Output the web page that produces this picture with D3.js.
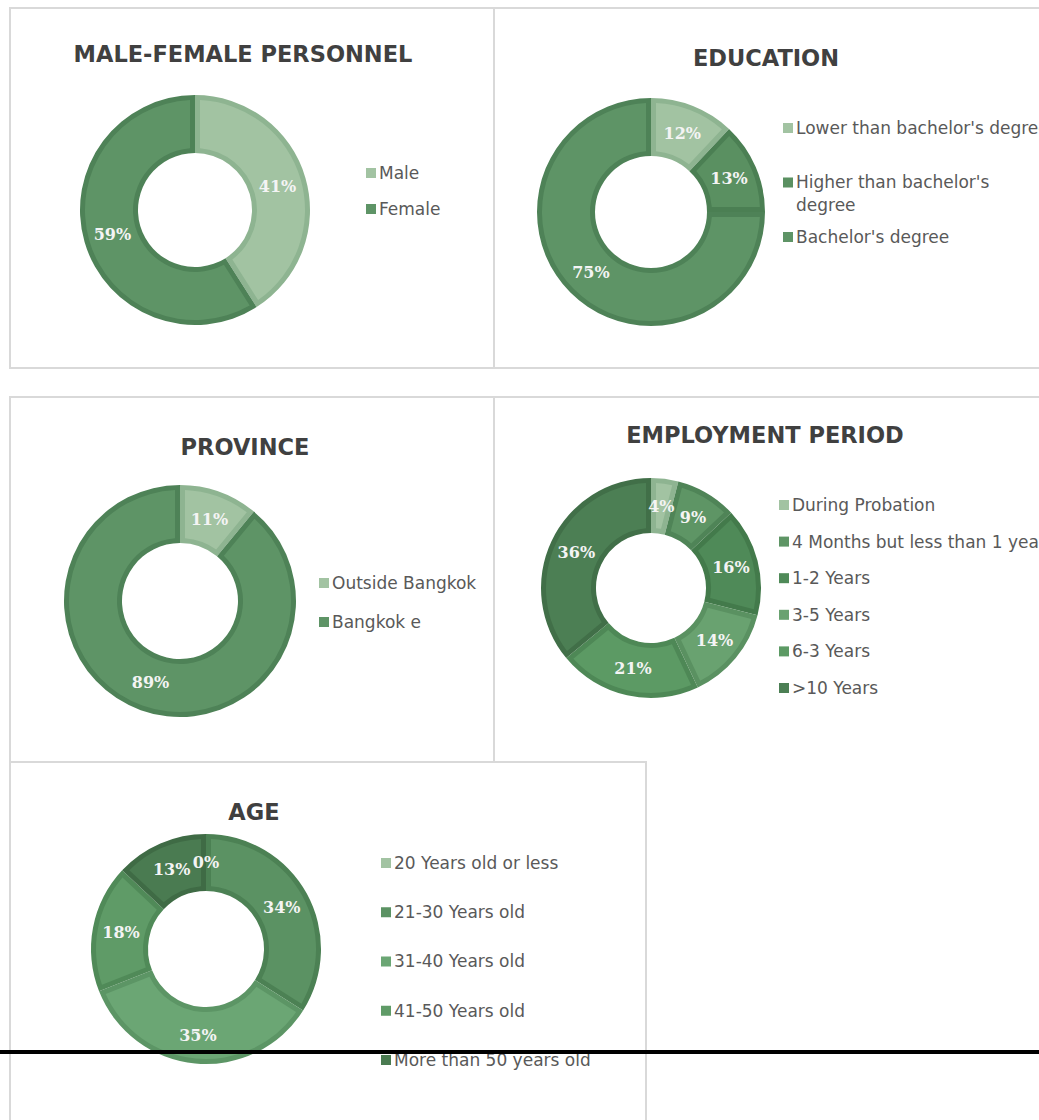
<!DOCTYPE html>
<html>
<head>
<meta charset="utf-8">
<script src="https://cdn.jsdelivr.net/npm/d3@7"></script>
<style>
  body { margin: 0; background: #fff; }
  svg { display: block; }
</style>
</head>
<body>
<div id="viz"></div>
<script>
// data
var genderLabels = ["Male", "Female"]
var genderValues = [41, 59]

var eduLabels = ["Lower than bachelor's degree", "Higher than bachelor's\ndegree", "Bachelor's degree"]
var eduValues = [12, 13, 75]

var provinceLabels = ["Outside Bangkok", "Bangkok e"]
var provinceValues = [11, 89]

var periodLabels = ["During Probation", "4 Months but less than 1 year", "1-2 Years", "3-5  Years", "6-3  Years", ">10 Years"]
var periodValues = [4, 9, 16, 14, 21, 36]

var ageLabels = ["20 Years old or less", "21-30 Years old", "31-40 Years old", "41-50 Years old", "More than 50 years old"]
var ageValues = [0, 34, 35, 18, 13]

// fill / edge colours per slice
var light = ["#a2c3a2", "#8eb491"]
var mid = ["#5e9466", "#4e8257"]
var genderColors = [light, mid]
var eduColors = [light, ["#5a9061", "#4b7f53"], mid]
var provinceColors = [light, mid]
var periodColors = [light, ["#5e9565", "#4f8457"], ["#4f8a58", "#437a4b"], ["#69a270", "#5a9161"], ["#5c9a64", "#4e8856"], ["#4c7f54", "#416f48"]]
var ageColors = [light, ["#5b9263", "#4c8154"], ["#6ba674", "#5c9565"], ["#5f9b67", "#508a58"], ["#4a7b51", "#3f6b45"]]

var W = 1039, H = 1120

var svg = d3.select("#viz").append("svg")
  .attr("width", W)
  .attr("height", H)

// panel borders
var border = svg.append("g")
  .attr("fill", "none")
  .attr("stroke", "#d9d9d9")
  .attr("stroke-width", 2)
border.append("rect").attr("x", 10).attr("y", 8).attr("width", 484).attr("height", 360)
border.append("rect").attr("x", 494).attr("y", 8).attr("width", 600).attr("height", 360)
border.append("rect").attr("x", 10).attr("y", 397).attr("width", 484).attr("height", 365)
border.append("line").attr("x1", 494).attr("y1", 397).attr("x2", 1100).attr("y2", 397)
border.append("line").attr("x1", 494).attr("y1", 397).attr("x2", 494).attr("y2", 762)
border.append("rect").attr("x", 10).attr("y", 762).attr("width", 636).attr("height", 400)

function drawDonut (cfg) {
  var g = svg.append("g")

  // title
  g.append("text")
    .attr("x", cfg.titleX)
    .attr("y", cfg.titleY)
    .attr("text-anchor", "middle")
    .style("font", "bold 22.5px 'DejaVu Sans'")
    .attr("fill", "#404040")
    .text(cfg.title)

  var pie = d3.pie().sort(null).value(function (d) { return d })
  var arcs = pie(cfg.values)

  // darker rim, then the lighter face inset inside it
  var outer = d3.arc().innerRadius(cfg.r).outerRadius(cfg.R)
  var inner = d3.arc().innerRadius(cfg.r + 5).outerRadius(cfg.R - 5)
    .padRadius(100).padAngle(0.1)
  var mid = d3.arc().innerRadius((cfg.r + cfg.R) / 2).outerRadius((cfg.r + cfg.R) / 2)

  var donut = g.append("g")
    .attr("transform", "translate(" + cfg.cx + "," + cfg.cy + ")")

  var slices = donut.selectAll(".slice")
    .data(arcs.filter(function (d) { return d.value > 0 }))
    .join("g")
    .attr("class", "slice")

  slices.append("path")
    .attr("d", outer)
    .attr("fill", function (d) { return cfg.colors[d.index][1] })
  slices.append("path")
    .attr("d", inner)
    .attr("fill", function (d) { return cfg.colors[d.index][0] })

  donut.selectAll(".lbl")
    .data(arcs)
    .join("text")
    .attr("class", "lbl")
    .attr("transform", function (d) { return "translate(" + mid.centroid(d) + ")" })
    .attr("text-anchor", "middle")
    .attr("dy", "0.35em")
    .style("font", "bold 16px 'DejaVu Serif'")
    .attr("fill", "#f4f4f4")
    .text(function (d) { return d.value + "%" })

  // legend
  var leg = g.append("g")
  cfg.labels.forEach(function (lab, i) {
    var y = cfg.legY + i * cfg.legStep
    leg.append("rect")
      .attr("x", cfg.legX - 13)
      .attr("y", y - 5)
      .attr("width", 10)
      .attr("height", 10)
      .attr("fill", cfg.colors[i][0])
    var lines = lab.split("\n")
    lines.forEach(function (ln, j) {
      leg.append("text")
        .attr("x", cfg.legX)
        .attr("y", y + j * 23)
        .attr("dy", "0.35em")
        .style("font", "17px 'DejaVu Sans'")
        .attr("fill", "#595959")
        .text(ln)
    })
  })
}

drawDonut({ title: "MALE-FEMALE PERSONNEL", titleX: 243, titleY: 62,
  values: genderValues, labels: genderLabels, colors: genderColors,
  cx: 195, cy: 210, R: 115, r: 57,
  legX: 379, legY: 173, legStep: 36 })

drawDonut({ title: "EDUCATION", titleX: 766, titleY: 66,
  values: eduValues, labels: eduLabels, colors: eduColors,
  cx: 651, cy: 212, R: 114, r: 56,
  legX: 796, legY: 128, legStep: 54.5 })

drawDonut({ title: "PROVINCE", titleX: 245, titleY: 455,
  values: provinceValues, labels: provinceLabels, colors: provinceColors,
  cx: 180, cy: 601, R: 116, r: 58,
  legX: 332, legY: 583, legStep: 39 })

drawDonut({ title: "EMPLOYMENT PERIOD", titleX: 765, titleY: 443,
  values: periodValues, labels: periodLabels, colors: periodColors,
  cx: 651, cy: 588, R: 110, r: 55,
  legX: 792, legY: 505, legStep: 36.6 })

drawDonut({ title: "AGE", titleX: 254, titleY: 820,
  values: ageValues, labels: ageLabels, colors: ageColors,
  cx: 206, cy: 949, R: 115, r: 58,
  legX: 394, legY: 863, legStep: 49.25 })

// black rule across the page
svg.append("line")
  .attr("x1", 0).attr("x2", W)
  .attr("y1", 1052).attr("y2", 1052)
  .attr("stroke", "#000")
  .attr("stroke-width", 4)
</script>
</body>
</html>
